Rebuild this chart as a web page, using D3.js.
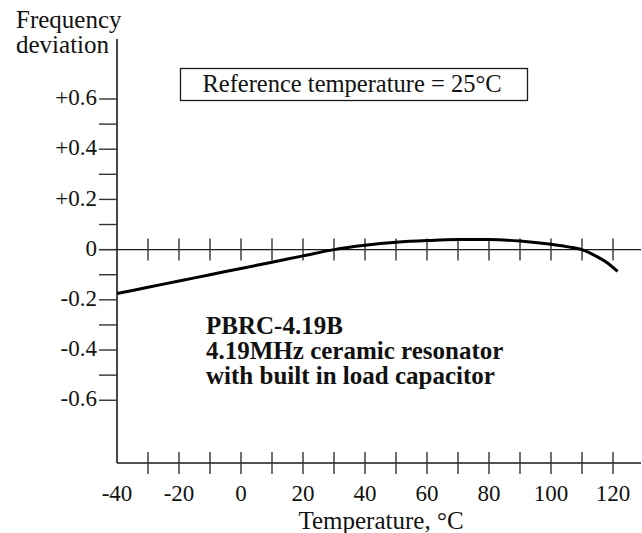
<!DOCTYPE html>
<html>
<head>
<meta charset="utf-8">
<script src="https://cdn.jsdelivr.net/npm/d3@7"></script>
<style>
  body { margin: 0; background: #fff; }
</style>
</head>
<body>
<svg id="chart" width="642" height="533"></svg>
<script>
// frequency deviation vs temperature, PBRC-4.19B
var temps = [-40, -30, -20, -10, 0, 10, 20, 30, 40, 50, 60, 70, 80, 90, 100, 105, 110, 115, 118, 121.5];
var deviation = [-0.175, -0.15, -0.125, -0.1, -0.075, -0.05, -0.025, 0.0, 0.017, 0.029, 0.036, 0.04, 0.04, 0.034, 0.021, 0.012, 0.0, -0.029, -0.051, -0.087];
var xTicks = [-40, -20, 0, 20, 40, 60, 80, 100, 120];
var xMinor = [-30, -20, -10, 0, 10, 20, 30, 40, 50, 60, 70, 80, 90, 100, 110, 120];
var yTicks = [0.6, 0.4, 0.2, 0, -0.2, -0.4, -0.6];
var yTickLabels = ["+0.6", "+0.4", "+0.2", "0", "-0.2", "-0.4", "-0.6"];
var yMinor = [0.5, 0.3, 0.1, -0.1, -0.3, -0.5];
var noteLines = ["PBRC-4.19B", "4.19MHz ceramic resonator", "with built in load capacitor"];

var serif = "'Liberation Serif'";
var svg = d3.select("#chart");
var x = d3.scaleLinear().domain([-40, 120]).range([117, 613]);
var y = d3.scaleLinear().domain([-0.85, 0.6]).range([463, 99]);
var ink = "#1a1a1a";
var axisX = x(-40);

function label(sel, size) {
    return sel.style("font-family", serif).style("font-size", size).attr("fill", "#111");
}

// y axis
svg.append("line")
    .attr("x1", axisX).attr("x2", axisX)
    .attr("y1", 39).attr("y2", y(-0.85))
    .attr("stroke", ink).attr("stroke-width", 1.6);

// bottom axis
svg.append("line")
    .attr("x1", axisX).attr("x2", 641)
    .attr("y1", y(-0.85)).attr("y2", y(-0.85))
    .attr("stroke", ink).attr("stroke-width", 1.6);

// zero line (starts left of the axis, acts as the 0 tick)
svg.append("line")
    .attr("x1", axisX - 18).attr("x2", 641)
    .attr("y1", y(0)).attr("y2", y(0))
    .attr("stroke", ink).attr("stroke-width", 1.4);

// y ticks, major and minor
svg.selectAll("line.ytick")
    .data(yTicks.concat(yMinor))
    .enter().append("line")
    .attr("class", "ytick")
    .attr("x1", axisX - 18).attr("x2", axisX)
    .attr("y1", d => y(d)).attr("y2", d => y(d))
    .attr("stroke", "#333").attr("stroke-width", 1.4);

svg.selectAll("text.ylab")
    .data(yTicks)
    .enter().append("text")
    .attr("class", "ylab")
    .attr("x", axisX - 20)
    .attr("y", d => y(d))
    .attr("dy", "0.27em")
    .attr("text-anchor", "end")
    .call(label, "23px")
    .text((d, i) => yTickLabels[i]);

// x ticks across the zero line and the bottom axis
[0, -0.85].forEach(function(level) {
    svg.selectAll(null)
        .data(xMinor)
        .enter().append("line")
        .attr("x1", d => x(d)).attr("x2", d => x(d))
        .attr("y1", y(level) - 11).attr("y2", y(level) + 11)
        .attr("stroke", "#333").attr("stroke-width", 1.4);
});

svg.selectAll("text.xlab")
    .data(xTicks)
    .enter().append("text")
    .attr("class", "xlab")
    .attr("x", d => x(d))
    .attr("y", 501)
    .attr("text-anchor", "middle")
    .call(label, "23px")
    .text(d => d);

// axis titles
svg.append("text")
    .attr("x", 381).attr("y", 529)
    .attr("text-anchor", "middle")
    .call(label, "25px")
    .text("Temperature, \u00B0C");

svg.append("text").attr("x", 16).attr("y", 28).call(label, "25px").text("Frequency");
svg.append("text").attr("x", 16).attr("y", 53).call(label, "25px").text("deviation");

// reference box
svg.append("rect")
    .attr("x", 180.5).attr("y", 68.5)
    .attr("width", 347).attr("height", 32)
    .attr("fill", "none").attr("stroke", ink).attr("stroke-width", 1.3);
svg.append("text")
    .attr("x", 352).attr("y", 92)
    .attr("text-anchor", "middle")
    .call(label, "24.5px")
    .text("Reference temperature = 25\u00B0C");

// the curve
var line = d3.line()
    .x(d => x(d[0]))
    .y(d => y(d[1]))
    .curve(d3.curveMonotoneX);

svg.append("path")
    .datum(d3.zip(temps, deviation))
    .attr("d", line)
    .attr("fill", "none")
    .attr("stroke", "#000")
    .attr("stroke-width", 3);

// part note
svg.selectAll("text.note")
    .data(noteLines)
    .enter().append("text")
    .attr("class", "note")
    .attr("x", 206)
    .attr("y", (d, i) => 333.5 + i * 25)
    .call(label, "25px")
    .style("font-weight", "bold")
    .text(d => d);
</script>
</body>
</html>
